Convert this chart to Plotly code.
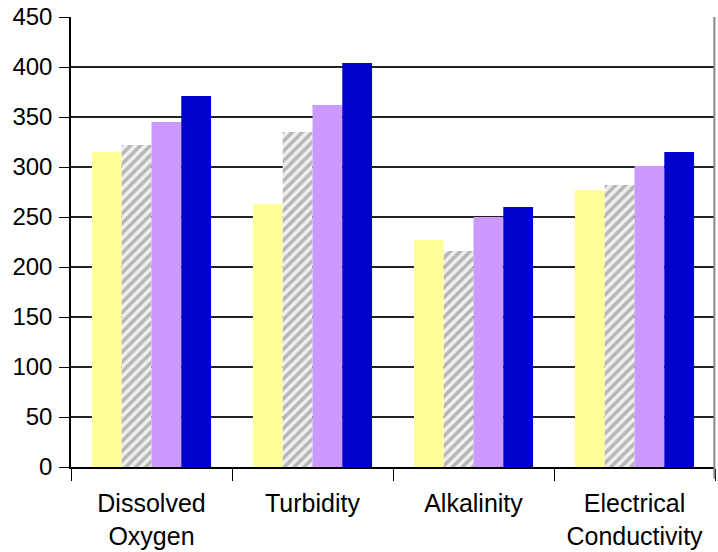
import plotly.graph_objects as go

categories = ["Dissolved<br>Oxygen", "Turbidity", "Alkalinity", "Electrical<br>Conductivity"]
series_a = [315, 263, 227, 277]
series_b = [322, 335, 216, 282]
series_c = [345, 362, 250, 301]
series_d = [371, 404, 260, 315]
y_ticks = [0, 50, 100, 150, 200, 250, 300, 350, 400, 450]

fig = go.Figure()
fig.add_bar(x=categories, y=series_a, marker=dict(color="#FFFF99", line=dict(width=0)))
fig.add_bar(x=categories, y=series_b, marker=dict(color="#E6E6E6", line=dict(width=0),
            pattern=dict(shape="/", fgcolor="#7A7A7A", bgcolor="#F0F0F0", size=7, solidity=0.5)))
fig.add_bar(x=categories, y=series_c, marker=dict(color="#CC99FF", line=dict(width=0)))
fig.add_bar(x=categories, y=series_d, marker=dict(color="#0000CC", line=dict(width=0)))

fig.update_layout(
    width=718, height=552,
    margin=dict(l=71, r=3, t=17, b=85),
    barmode="group", bargap=0.26, bargroupgap=0,
    showlegend=False,
    plot_bgcolor="white", paper_bgcolor="white",
    font=dict(family="Liberation Sans, Arial, sans-serif", color="black"),
)
fig.update_xaxes(
    showline=True, linecolor="black", linewidth=2,
    ticks="outside", tickson="boundaries", ticklen=12, tickcolor="black", tickwidth=1,
    tickfont=dict(size=25), showgrid=False, ticklabelstandoff=13,
)
fig.update_yaxes(
    range=[0, 450], tickvals=y_ticks, showline=True, linecolor="black", linewidth=1.5,
    ticks="outside", ticklen=10, tickcolor="black", tickwidth=1,
    showgrid=True, gridcolor="#222222", gridwidth=1.5, zeroline=False,
    tickfont=dict(size=24), ticklabelstandoff=2,
)
fig.add_shape(type="line", xref="paper", yref="paper", x0=0.999, x1=0.999, y0=1, y1=-0.026,
              line=dict(color="#888888", width=2))
fig.write_html("out.html", config={"displayModeBar": False},
               post_script="document.body.style.margin='0';")
